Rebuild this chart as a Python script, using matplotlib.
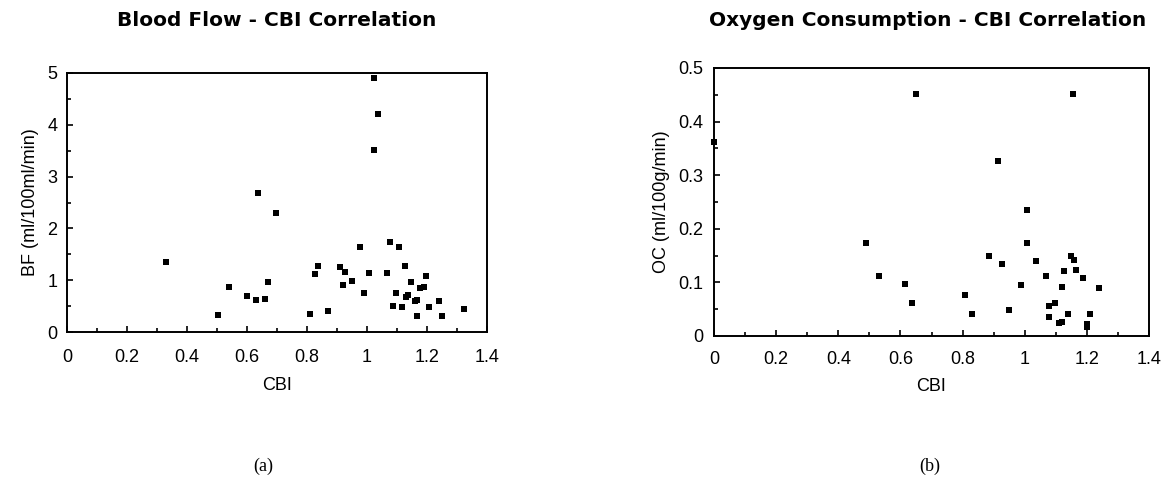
#!/usr/bin/env python3
"""Two scatter panels: blood flow and oxygen consumption against CBI."""
import matplotlib
matplotlib.use("Agg")
import matplotlib.pyplot as plt
from matplotlib.ticker import MultipleLocator

plt.rcParams["font.family"] = ["Liberation Sans", "DejaVu Sans"]

# panel (a): blood flow vs CBI
bf_cbi = [0.33, 0.503, 0.541, 0.601, 0.63, 0.66, 0.669, 0.638, 0.696, 0.81,
          0.826, 0.837, 0.869, 0.909, 0.928, 0.92, 0.949, 0.978, 0.989, 1.008,
          1.024, 1.036, 1.024, 1.067, 1.077, 1.108, 1.088, 1.098, 1.118, 1.128,
          1.148, 1.137, 1.129, 1.159, 1.168, 1.176, 1.189, 1.195, 1.168, 1.208,
          1.24, 1.251, 1.322]
bf_val = [1.35, 0.32, 0.875, 0.695, 0.62, 0.64, 0.965, 2.69, 2.29, 0.35,
          1.12, 1.28, 0.41, 1.25, 1.15, 0.915, 0.985, 1.65, 0.75, 1.13,
          4.90, 4.21, 3.51, 1.13, 1.74, 1.65, 0.50, 0.76, 0.49, 1.28,
          0.965, 0.72, 0.67, 0.59, 0.61, 0.85, 0.86, 1.09, 0.31, 0.49,
          0.59, 0.31, 0.45]

# panel (b): oxygen consumption vs CBI
oc_cbi = [0.0, 0.49, 0.531, 0.615, 0.636, 0.649, 0.808, 0.829, 0.886, 0.914,
          0.927, 0.949, 0.988, 1.006, 1.007, 1.037, 1.068, 1.079, 1.079, 1.098,
          1.109, 1.12, 1.12, 1.127, 1.138, 1.148, 1.154, 1.159, 1.165, 1.188,
          1.2, 1.2, 1.21, 1.24]
oc_val = [0.362, 0.173, 0.111, 0.097, 0.062, 0.452, 0.076, 0.041, 0.150, 0.327,
          0.135, 0.049, 0.096, 0.235, 0.173, 0.139, 0.111, 0.056, 0.036, 0.061,
          0.025, 0.092, 0.027, 0.122, 0.041, 0.149, 0.452, 0.141, 0.123, 0.109,
          0.023, 0.016, 0.041, 0.089]

x_ticks = [0, 0.2, 0.4, 0.6, 0.8, 1, 1.2, 1.4]
x_ticklabels = ["0", "0.2", "0.4", "0.6", "0.8", "1", "1.2", "1.4"]


def style(ax, ymax, ymajor, yminor, ylabels, xpad, ypad):
    ax.set_xlim(0, 1.4)
    ax.set_ylim(0, ymax)
    ax.set_xticks(x_ticks)
    ax.set_xticklabels(x_ticklabels)
    ax.xaxis.set_minor_locator(MultipleLocator(0.1))
    ax.set_yticks([i * ymajor for i in range(len(ylabels))])
    ax.set_yticklabels(ylabels)
    ax.yaxis.set_minor_locator(MultipleLocator(yminor))
    ax.tick_params(which="both", direction="in", width=1.2, labelsize=13)
    ax.tick_params(which="major", length=4)
    ax.tick_params(which="minor", length=3)
    ax.tick_params(axis="x", pad=xpad)
    ax.tick_params(axis="y", pad=ypad)
    for s in ax.spines.values():
        s.set_linewidth(1.4)


fig = plt.figure(figsize=(11.7, 4.78), dpi=100)

ax1 = fig.add_axes([0.0573, 0.3054, 0.3590, 0.5419])
ax1.scatter(bf_cbi, bf_val, marker="s", s=22, color="black", linewidths=0)
style(ax1, 5, 1, 0.5, ["0", "1", "2", "3", "4", "5"], 12, 7)
ax1.set_xlabel("CBI", fontsize=13, labelpad=8)
ax1.set_ylabel("BF (ml/100ml/min)", fontsize=13, labelpad=6)

ax2 = fig.add_axes([0.6103, 0.2971, 0.3718, 0.5607])
ax2.scatter(oc_cbi, oc_val, marker="s", s=22, color="black", linewidths=0,
            clip_on=False, zorder=3)
style(ax2, 0.5, 0.1, 0.05, ["0", "0.1", "0.2", "0.3", "0.4", "0.5"], 11, 8)
ax2.set_xlabel("CBI", fontsize=13, labelpad=7)
ax2.set_ylabel("OC (ml/100g/min)", fontsize=13, labelpad=6)

title_font = ["DejaVu Sans"]
fig.text(277 / 1170, 1 - 21 / 478, "Blood Flow - CBI Correlation",
         ha="center", va="center", fontsize=14.5, fontweight="bold",
         family=title_font)
fig.text(928 / 1170, 1 - 21 / 478, "Oxygen Consumption - CBI Correlation",
         ha="center", va="center", fontsize=14.5, fontweight="bold",
         family=title_font)

fig.text(263 / 1170, 1 - 466 / 478, "(a)", ha="center", va="center",
         fontsize=13, family=["Liberation Serif", "DejaVu Serif"])
fig.text(930 / 1170, 1 - 466 / 478, "(b)", ha="center", va="center",
         fontsize=13, family=["Liberation Serif", "DejaVu Serif"])

fig.savefig("out.png", dpi=100)
